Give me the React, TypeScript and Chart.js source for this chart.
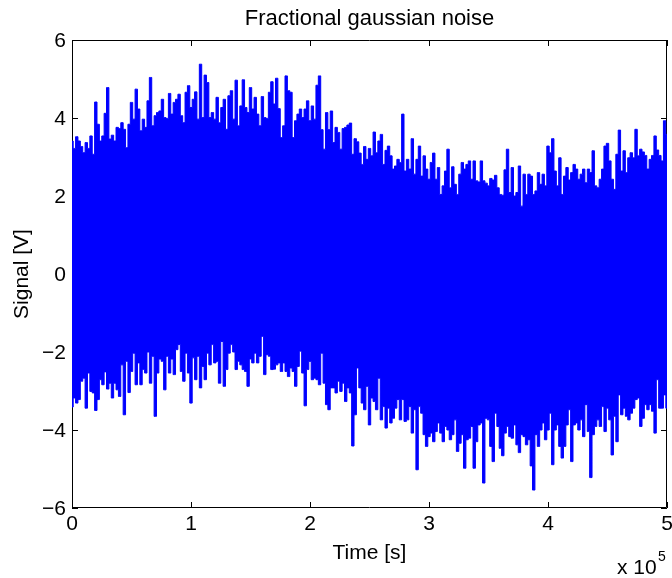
import React, { useEffect, useRef } from 'react';
import { Chart, registerables } from 'chart.js';

Chart.register(...registerables);

// Sample spacing of the envelope (seconds)
const TIME_STEP = 2000;

// Upper envelope of the signal (V), one value per TIME_STEP from t = 0 to t = 5e5
const upperEnvelope = [
  3.41, 3.22, 3.52, 3.41, 3.27, 3.11, 3.37, 3.22, 3.54, 3.07,
  4.41, 3.84, 3.41, 3.54, 4.12, 4.78, 3.46, 3.56, 3.41, 3.76,
  3.73, 3.88, 3.71, 3.24, 3.84, 4.40, 3.97, 4.74, 4.23, 3.67,
  3.97, 3.76, 4.44, 5.04, 3.80, 4.06, 4.14, 4.18, 4.48, 4.01,
  3.99, 4.63, 4.10, 4.40, 4.48, 4.61, 4.06, 3.88, 4.66, 4.83,
  4.27, 4.48, 4.67, 3.97, 5.38, 4.01, 5.10, 4.91, 4.01, 4.14,
  3.97, 4.53, 3.88, 4.27, 4.48, 3.71, 4.57, 4.70, 3.97, 4.97,
  3.80, 4.31, 4.98, 4.27, 4.14, 4.78, 4.23, 4.53, 4.10, 3.80,
  4.55, 4.01, 3.99, 4.66,
  4.93, 4.36, 5.02, 4.24, 3.50, 3.80, 5.08, 4.70, 4.66, 3.50,
  3.93, 4.10, 4.23, 4.01, 4.23, 4.44, 3.93, 4.31, 3.97, 4.84,
  5.08, 3.70, 3.20, 4.14, 3.70, 4.18, 3.37, 3.76, 3.63, 3.20,
  3.73, 3.76, 3.82, 3.87, 3.07, 3.47, 3.39, 3.10, 2.81, 3.27,
  2.94, 3.22, 3.03, 3.64, 3.11, 3.41, 3.58, 2.81, 3.17, 3.28,
  3.03, 2.69, 2.77, 2.94, 2.86, 4.10, 2.64, 2.94, 2.69, 3.47,
  2.56, 2.94, 3.28, 2.51, 3.03, 2.69, 2.43, 2.86, 3.10, 2.43,
  2.73, 2.04, 2.26, 2.64, 3.20, 2.21, 2.75, 2.30, 2.04, 2.56,
  2.86, 2.69, 2.81,
  2.90, 2.43, 2.90, 2.39, 2.36, 2.90, 2.39, 2.33, 2.26, 2.45,
  2.41, 2.53, 2.21, 2.04, 2.02, 2.67, 3.20, 2.09, 2.73, 2.00,
  2.09, 2.77, 1.74, 2.56, 2.04, 2.56, 2.51, 2.04, 2.13, 2.60,
  2.30, 2.56, 2.26, 3.28, 3.11, 3.47, 2.64, 2.26, 2.98, 2.04,
  2.51, 2.73, 2.41, 2.60, 2.81, 2.69, 2.43, 2.56, 2.69, 2.34,
  2.69, 2.60, 3.16, 2.26, 2.21, 2.43, 2.69, 3.28, 3.35, 2.90,
  2.43, 2.17, 3.07, 3.69, 2.64, 3.16, 2.60, 2.98, 3.11, 2.98,
  3.71, 3.03, 3.20, 3.13, 3.04, 2.69, 2.94, 3.04, 3.54, 3.18,
  3.04, 2.90, 3.93, 3.58,
];

// Lower envelope of the signal (V), same sampling
const lowerEnvelope = [
  -3.41, -3.18, -3.31, -3.22, -2.75, -2.67, -3.44, -2.54, -3.01, -3.05,
  -3.50, -3.22, -2.71, -2.84, -2.51, -2.95, -2.80, -3.18, -2.80, -2.97,
  -3.14, -2.33, -3.61, -2.24, -3.04, -2.50, -2.03, -2.84, -2.28, -2.84,
  -2.45, -2.54, -2.00, -2.80, -2.11, -3.65, -2.54, -2.18, -2.24, -2.97,
  -2.11, -2.54, -2.18, -2.58, -1.94, -1.81, -2.50, -2.75, -2.03, -2.54,
  -3.31, -2.15, -2.71, -2.11, -2.92, -2.37, -2.71, -2.03, -2.33, -1.81,
  -2.28, -2.24, -2.80, -1.73, -2.88, -2.45, -2.03, -1.81, -2.00, -2.45,
  -2.24, -2.33, -2.45, -2.50, -2.88, -2.18, -2.28, -2.03, -2.28, -2.11,
  -1.60, -2.58, -2.07, -2.11,
  -2.45, -2.44, -2.33, -2.28, -2.50, -2.28, -2.50, -2.63, -2.41, -2.50,
  -2.88, -2.37, -1.98, -2.54, -3.38, -2.45, -2.24, -2.71, -2.67, -2.71,
  -2.84, -2.03, -2.80, -3.35, -3.48, -2.92, -2.92, -3.05, -2.75, -3.01,
  -2.80, -3.27, -2.92, -3.05, -4.41, -3.61, -2.41, -2.92, -3.31, -3.48,
  -2.88, -3.87, -3.18, -3.27, -3.48, -2.67, -3.74, -3.40, -3.95, -3.44,
  -3.82, -3.70, -3.44, -3.22, -3.74, -3.22, -3.78, -3.74, -3.40, -4.08,
  -3.48, -5.02, -3.40, -3.57, -4.12, -4.42, -4.17, -4.08, -4.30, -4.04,
  -3.82, -4.08, -4.30, -3.91, -4.00, -4.25, -4.12, -3.74, -4.55, -4.34,
  -4.12, -4.98, -4.25,
  -4.21, -3.91, -4.98, -4.30, -3.87, -3.82, -5.36, -3.70, -3.74, -4.42,
  -4.81, -3.57, -3.91, -4.47, -4.66, -4.08, -3.91, -4.17, -4.21, -3.87,
  -4.38, -4.58, -4.12, -4.17, -4.38, -4.25, -4.92, -5.54, -4.12, -4.42,
  -4.00, -3.82, -4.25, -4.00, -3.57, -4.89, -4.00, -3.87, -4.42, -4.72,
  -4.42, -3.87, -3.48, -4.81, -3.87, -3.82, -4.00, -3.74, -4.17, -3.35,
  -4.04, -5.22, -4.12, -3.91, -3.74, -3.91, -3.40, -4.04, -3.44, -3.74,
  -4.64, -3.65, -4.30, -3.10, -3.61, -3.44, -3.65, -3.74, -3.57, -3.44,
  -3.22, -3.18, -3.91, -3.70, -3.35, -3.48, -3.35, -3.52, -4.08, -2.71,
  -3.44, -3.44, -3.10, -3.44,
];

const xTicks = [0, 100000, 200000, 300000, 400000, 500000];
const xTickLabels = ['0', '1', '2', '3', '4', '5'];
const yTicks = [-6, -4, -2, 0, 2, 4, 6];
const yTickLabels = ['\u22126', '\u22124', '\u22122', '0', '2', '4', '6'];

const TITLE = 'Fractional gaussian noise';
const X_TITLE = 'Time [s]';
const Y_TITLE = 'Signal [V]';

const FONT_FAMILY = '"Liberation Sans", Arial, Helvetica, sans-serif';
const BLUE = '#0000ff';

export default function App() {
  const canvasRef = useRef<HTMLCanvasElement | null>(null);

  useEffect(() => {
    const canvas = canvasRef.current;
    if (!canvas) return;

    const upperData = upperEnvelope.map((v, i) => ({ x: i * TIME_STEP, y: v }));
    const lowerData = lowerEnvelope.map((v, i) => ({ x: i * TIME_STEP, y: v }));

    const axesPlugin = {
      id: 'matlabAxes',
      beforeDatasetsDraw(chart: any) {
        const { ctx, chartArea: a, scales } = chart;
        const xs = scales.x;
        const ys = scales.y;
        ctx.save();
        ctx.strokeStyle = '#000';
        ctx.lineWidth = 1;
        ctx.beginPath();
        ctx.rect(a.left + 0.5, a.top + 0.5, a.right - a.left - 1, a.bottom - a.top - 1);
        ctx.stroke();
        const tl = 6;
        ctx.beginPath();
        xTicks.forEach((t) => {
          const px = Math.round(xs.getPixelForValue(t)) + 0.5;
          ctx.moveTo(px, a.bottom);
          ctx.lineTo(px, a.bottom - tl);
          ctx.moveTo(px, a.top);
          ctx.lineTo(px, a.top + tl);
        });
        yTicks.forEach((t) => {
          const py = Math.round(ys.getPixelForValue(t)) + 0.5;
          ctx.moveTo(a.left, py);
          ctx.lineTo(a.left + tl, py);
          ctx.moveTo(a.right, py);
          ctx.lineTo(a.right - tl, py);
        });
        ctx.stroke();
        ctx.restore();
      },
      afterDraw(chart: any) {
        const { ctx, chartArea: a, scales } = chart;
        const xs = scales.x;
        const ys = scales.y;
        ctx.save();
        ctx.fillStyle = '#000';
        const f = `21px ${FONT_FAMILY}`;
        ctx.font = f;
        // x tick labels
        ctx.textAlign = 'center';
        ctx.textBaseline = 'middle';
        xTicks.forEach((t, i) => {
          ctx.fillText(xTickLabels[i], xs.getPixelForValue(t), a.bottom + 16);
        });
        // y tick labels
        ctx.textAlign = 'right';
        yTicks.forEach((t, i) => {
          ctx.fillText(yTickLabels[i], a.left - 6, ys.getPixelForValue(t) + 1);
        });
        // title
        ctx.font = `22px ${FONT_FAMILY}`;
        ctx.textAlign = 'center';
        ctx.textBaseline = 'alphabetic';
        ctx.fillText(TITLE, (a.left + a.right) / 2, a.top - 15);
        // x title
        ctx.font = f;
        ctx.fillText(X_TITLE, (a.left + a.right) / 2, a.bottom + 51);
        // exponent label
        ctx.textAlign = 'left';
        ctx.fillText('x 10', 617, 574);
        ctx.font = `14px ${FONT_FAMILY}`;
        ctx.fillText('5', 658, 561);
        // y title
        ctx.font = f;
        ctx.translate(22, (a.top + a.bottom) / 2);
        ctx.rotate(-Math.PI / 2);
        ctx.textAlign = 'center';
        ctx.textBaseline = 'middle';
        ctx.fillText(Y_TITLE, 0, 0);
        ctx.restore();
      },
    };

    const chart = new Chart(canvas, {
      type: 'line',
      data: {
        datasets: [
          {
            data: upperData,
            borderColor: BLUE,
            backgroundColor: BLUE,
            borderWidth: 1,
            pointRadius: 0,
            fill: '+1',
            stepped: 'middle',
          },
          {
            data: lowerData,
            borderColor: BLUE,
            backgroundColor: BLUE,
            borderWidth: 1,
            pointRadius: 0,
            fill: false,
            stepped: 'middle',
          },
        ],
      },
      options: {
        animation: false,
        responsive: false,
        devicePixelRatio: 1,
        events: [],
        layout: { padding: { left: 72, right: 5, top: 40, bottom: 70 } },
        plugins: {
          legend: { display: false },
          tooltip: { enabled: false },
          title: { display: false },
        },
        scales: {
          x: { type: 'linear', min: 0, max: 500000, display: false },
          y: { type: 'linear', min: -6, max: 6, display: false },
        },
      },
      plugins: [axesPlugin],
    });

    return () => {
      chart.destroy();
    };
  }, []);

  return (
    <div style={{ position: 'fixed', left: 0, top: 0, width: 672, height: 578, background: '#fff' }}>
      <canvas ref={canvasRef} width={672} height={578} style={{ display: 'block' }} />
    </div>
  );
}
